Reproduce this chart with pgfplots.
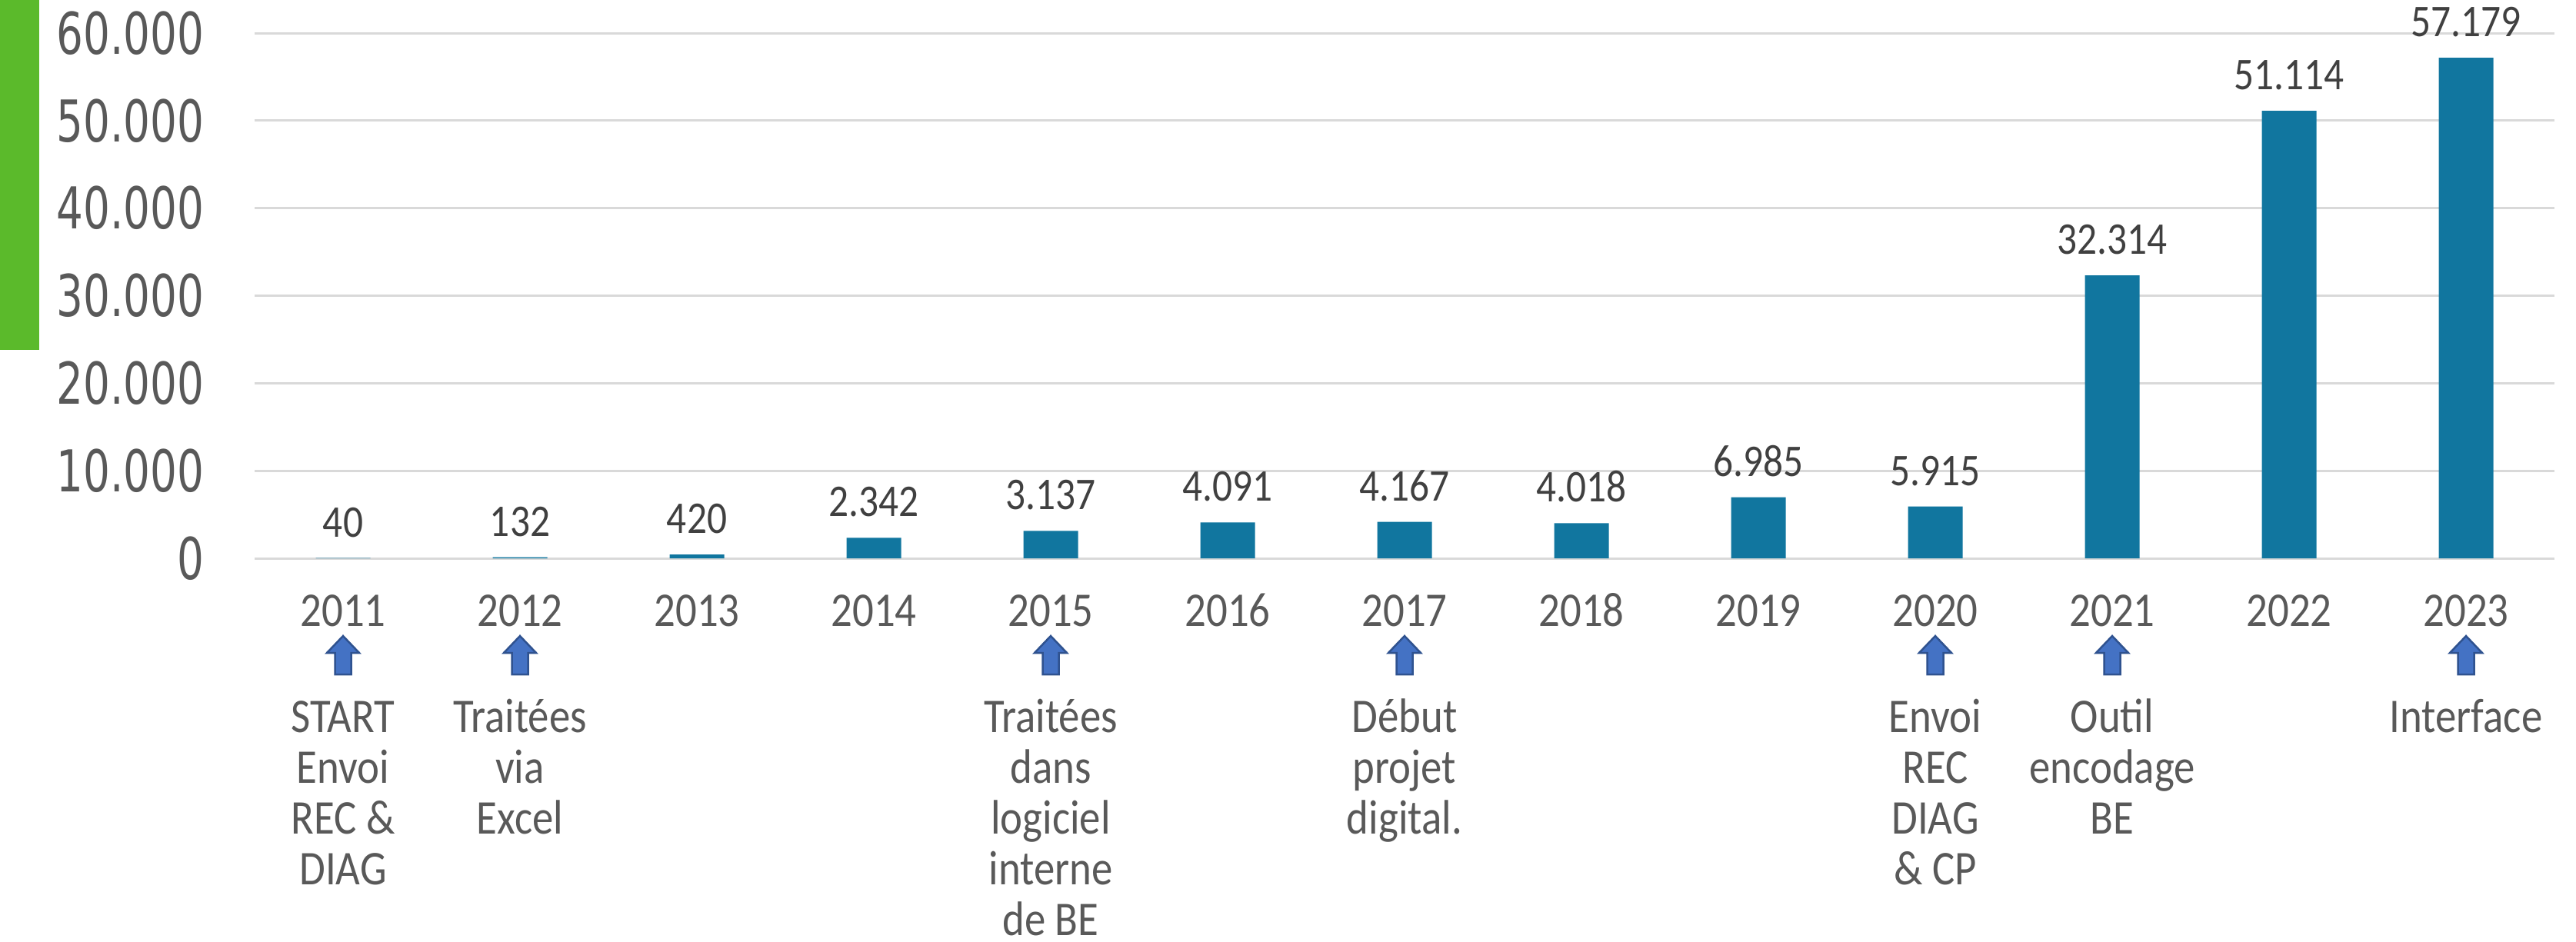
\documentclass[border=0pt]{standalone}
\usepackage{pgfplots}
\pgfplotsset{compat=1.18}
\usepackage{pgfplotstable}
\usepackage{fontspec}
\setmainfont{Carlito}[FakeStretch=0.87]
\newfontfamily\yfont{DejaVu Sans}[FakeStretch=0.73]
\definecolor{barblue}{RGB}{17,118,159}
\definecolor{arrowblue}{RGB}{68,114,196}
\definecolor{arrowdark}{RGB}{47,82,143}
\definecolor{mygreen}{RGB}{91,186,43}
\definecolor{gridgray}{RGB}{217,217,217}
\definecolor{txtgray}{RGB}{89,89,89}
\definecolor{labgray}{RGB}{64,64,64}
\newcommand\annfont{\fontsize{12.6}{13.4}\selectfont}
\pgfplotstableread{
x y lab
0 40 40
1 132 132
2 420 420
3 2342 2.342
4 3137 3.137
5 4091 4.091
6 4167 4.167
7 4018 4.018
8 6985 6.985
9 5915 5.915
10 32314 32.314
11 51114 51.114
12 57179 57.179
}\datatable
\newcommand\annot[2]{%
  \foreach \t [count=\k from 0] in {#2}
    \node[anchor=base, font=\annfont, text=txtgray, inner sep=0pt] at ([yshift={-45.2pt-\k*13.2pt}]#1) {\t};%
}
\begin{document}
\begin{tikzpicture}
\useasboundingbox (0,0) rectangle (669.8pt,244.8pt);
\fill[mygreen] (0,153.8pt) rectangle (10.2pt,244.8pt);
\begin{axis}[
  at={(66.2pt,99.6pt)}, anchor=south west,
  scale only axis, width=598pt, height=136.6pt,
  xmin=-0.5, xmax=12.5, ymin=0, ymax=60000,
  scaled y ticks=false,
  axis line style={draw=none},
  major tick length=0pt,
  ymajorgrids, grid style={color=gridgray, line width=0.6pt},
  ytick={0,10000,20000,30000,40000,50000,60000},
  yticklabels={0,10.000,20.000,30.000,40.000,50.000,60.000},
  xtick={0,...,12},
  xticklabels={2011,2012,2013,2014,2015,2016,2017,2018,2019,2020,2021,2022,2023},
  /pgf/number format/assume math mode=true,
  yticklabel style={anchor=east, inner sep=0pt, xshift=-13pt, font=\yfont\fontsize{15}{16}\selectfont, text=txtgray},
  xticklabel style={anchor=base, inner sep=0pt, yshift=-17.6pt, font=\annfont, text=txtgray},
  ybar, bar width=14.2pt,
  nodes near coords, point meta=explicit symbolic,
  nodes near coords style={anchor=base, inner sep=0pt, yshift=5.5pt, font=\fontsize{11.8}{13}\selectfont, text=labgray},
  clip=false,
]
\addplot[fill=barblue, draw=none] table[x=x, y=y, meta=lab] {\datatable};
\coordinate (c0) at (axis cs:0,0);
\coordinate (c1) at (axis cs:1,0);
\coordinate (c4) at (axis cs:4,0);
\coordinate (c6) at (axis cs:6,0);
\coordinate (c9) at (axis cs:9,0);
\coordinate (c10) at (axis cs:10,0);
\coordinate (c12) at (axis cs:12,0);
\end{axis}
\foreach \c in {c0,c1,c4,c6,c9,c10,c12}{
  \draw[fill=arrowblue, draw=arrowdark, line width=0.5pt, shift={(\c)}]
    (0,-20.2pt) -- ++(4.2pt,-4.4pt) -- ++(-2.1pt,0) -- ++(0,-5.6pt) -- ++(-4.2pt,0) -- ++(0,5.6pt) -- ++(-2.1pt,0) -- cycle;
}
\annot{c0}{START,Envoi,REC \&,DIAG}
\annot{c1}{Traitées,via,Excel}
\annot{c4}{Traitées,dans,logiciel,interne,de BE}
\annot{c6}{Début,projet,digital.}
\annot{c9}{Envoi,REC,DIAG,\& CP}
\annot{c10}{Outil,encodage,BE}
\annot{c12}{Interface}
\end{tikzpicture}
\end{document}
